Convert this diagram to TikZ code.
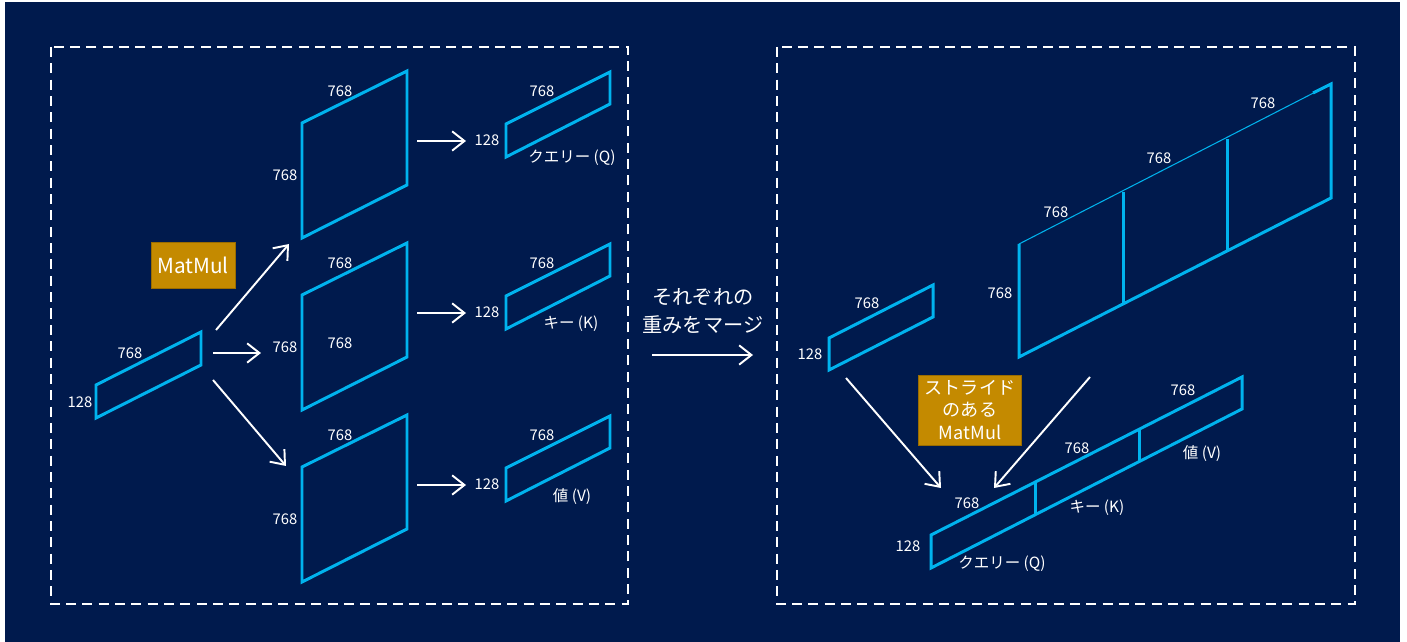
\documentclass[tikz,border=0pt]{standalone}
\usepackage{fontspec}
\setmainfont{Noto Sans CJK JP}
\usetikzlibrary{arrows.meta}
\definecolor{nacht}{HTML}{001A4D}
\definecolor{tuerkis}{HTML}{00B3EE}
\definecolor{ocker}{HTML}{C48A00}
\definecolor{ockerd}{HTML}{9A6C00}
\tikzset{
  blk/.style={tuerkis,line width=1.7pt,line join=miter},
  blkd/.style={tuerkis,line width=0.6pt},
  pfeil/.style={-{Straight Barb[length=7pt,width=11pt]},white,line width=1.1pt},
  rahmen/.style={white,line width=1.1pt,dash pattern=on 5.7pt off 3.6pt},
  zahl/.style={white,inner sep=0pt,font=\fontsize{8.4}{10}\selectfont},
  etikett/.style={white,inner sep=0pt,font=\fontsize{8.8}{10}\selectfont},
  op/.style={fill=ocker,draw=ockerd,line width=0.4pt,text=white,align=center,inner sep=0pt},
}

\begin{document}
\begin{tikzpicture}[x=0.2mm,y=-0.2mm]
  \useasboundingbox (0,0) rectangle (1407,642);
  \fill[white] (0,0) rectangle (1407,642);
  \fill[nacht] (5,2) rectangle (1400,642);
  % --- Rahmen ---
  \draw[rahmen] (51,47) rectangle (628,604);
  \draw[rahmen] (777,47) rectangle (1355,604);

  % --- Eingabe links ---
  \draw[blk] (96,385)--(201,332)--(201,365)--(96,418)--cycle;
  \node[zahl] (inb) at (130,353) {768};
  \node[zahl] (inh) at (80,402) {128};
  \node[op,minimum width=16.8mm,minimum height=9.2mm,font=\fontsize{11.8}{13}\selectfont] (mm) at (193,265) {MatMul};
  \coordinate (e1) at (216,330); \coordinate (w1) at (289,244);
  \coordinate (e2) at (213,353); \coordinate (w2) at (261,353);
  \coordinate (e3) at (213,380); \coordinate (w3) at (286,466);
  \draw[pfeil] (e1)--(w1);
  \draw[pfeil] (e2)--(w2);
  \draw[pfeil] (e3)--(w3);

  % --- Gewichte und Ergebnisse ---
  \foreach \dy/\n in {0/q,172/k,344/v}{
    \begin{scope}[shift={(0,\dy)}]
      \draw[blk] (302,123)--(407,71)--(407,185)--(302,238)--cycle;
      \node[zahl] (\n gb) at (340,91) {768};
      \node[zahl] (\n gh) at (285,175) {768};
      \coordinate (\n s) at (417,141); \coordinate (\n z) at (466,141);
      \draw[pfeil] (\n s)--(\n z);
      \draw[blk] (506,124)--(610,72)--(610,104)--(506,157)--cycle;
      \node[zahl] (\n rb) at (542,91) {768};
      \node[zahl] (\n rh) at (487,140) {128};
    \end{scope}
  }
  \node[zahl] (kgi) at (340,343) {768};
  \node[etikett] (ql) at (572,158) {クエリー (Q)};
  \node[etikett] (kl) at (571,324) {キー (K)};
  \node[etikett] (vl) at (572,497) {値 (V)};

  % --- Mitte ---
  \node[white,inner sep=0pt,align=center,font=\fontsize{11.5}{16}\selectfont] (merge) at (703,311) {それぞれの\\重みをマージ};
  \coordinate (ms) at (652,355); \coordinate (mz) at (753,355);
  \draw[pfeil] (ms)--(mz);

  % --- Eingabe rechts ---
  \draw[blk] (829,338)--(933,285)--(933,317)--(829,370)--cycle;
  \node[zahl] (rib) at (867,303) {768};
  \node[zahl] (rih) at (810,354) {128};

  % --- zusammengefuehrte Gewichte ---
  \draw[blkd] (1019,244)--(1331,84);
  \draw[blk] (1313,93)--(1331,84)--(1331,198)--(1019,357)--(1019,244);
  \draw[blk] (1123,192)--(1123,305);
  \draw[blk] (1227,139)--(1227,252);
  \node[zahl] (wb1) at (1056,212) {768};
  \node[zahl] (wb2) at (1159,158) {768};
  \node[zahl] (wb3) at (1263,103) {768};
  \node[zahl] (wh) at (1000,293) {768};

  % --- Ergebnis rechts ---
  \draw[blk] (931,535)--(1242,377)--(1242,409)--(931,568)--cycle;
  \draw[blk] (1035,483)--(1035,515);
  \draw[blk] (1139,430)--(1139,462);
  \node[zahl] (rb1) at (967,503) {768};
  \node[zahl] (rb2) at (1077,448) {768};
  \node[zahl] (rb3) at (1183,390) {768};
  \node[zahl] (rh) at (908,546) {128};
  \node[etikett] (rq) at (1002,564) {クエリー (Q)};
  \node[etikett] (rk) at (1097,508) {キー (K)};
  \node[etikett] (rv) at (1202,454) {値 (V)};

  \node[op,minimum width=20.6mm,minimum height=14mm,font=\fontsize{10.3}{12.8}\selectfont] (smm) at (970,410) {ストライド\\のある\\MatMul};
  \coordinate (l1) at (846,378); \coordinate (l2) at (941,488);
  \coordinate (r1) at (1090,377); \coordinate (r2) at (994,488);
  \draw[pfeil] (l1)--(l2);
  \draw[pfeil] (r1)--(r2);
\end{tikzpicture}
\end{document}
